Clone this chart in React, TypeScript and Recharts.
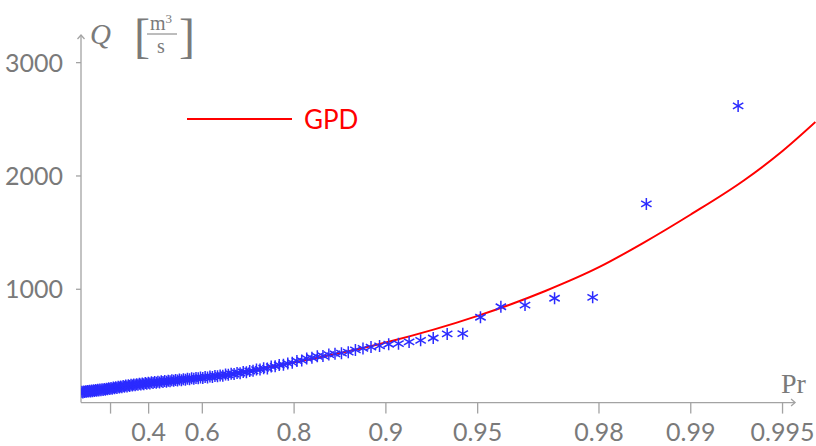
import React from 'react'
import {
  ComposedChart,
  Line,
  Scatter,
  XAxis,
  YAxis,
  ReferenceLine,
  Legend,
} from 'recharts'

// observed discharges, ranked from the largest (rank 1) to the smallest
const observedQ = [
  2618, 1753, 929, 921, 861, 846, 753, 608, 606, 570,
  550, 535, 520, 515, 500, 490, 478, 465, 445, 436,
  430, 424, 412, 408, 396, 390, 372, 368, 352, 346,
  334, 332, 320, 318, 302, 303, 292, 291, 280, 279,
  268, 270, 260, 262, 252, 254, 245, 247, 238, 240,
  232, 235, 226, 230, 222, 226, 216, 221, 214, 218,
  210, 215, 206, 210, 202, 207, 198, 203, 195, 200,
  192, 197, 188, 193, 185, 190, 182, 188, 178, 185,
  176, 182, 172, 179, 169, 176, 166, 172, 163, 169,
  160, 166, 157, 163, 153, 160, 150, 157, 146, 153,
  143, 150, 140, 146, 136, 143, 133, 139, 129, 136,
  126, 133, 123, 129, 120, 126, 117, 123, 114, 120,
  112, 118, 110, 115, 107, 113, 105, 111, 103, 109,
  101, 107, 99, 105, 97, 103, 95, 100, 93, 98, 90, 96,
]

// fitted GPD curve
const gpdProb = [0.077, 0.4, 0.6, 0.8, 0.9, 0.95, 0.97, 0.98, 0.9857, 0.99, 0.9933, 0.995, 0.9961]
const gpdQ = [96, 150, 215, 355, 530, 765, 985, 1195, 1410, 1660, 1960, 2220, 2476]

const tickProbs = [0.2, 0.4, 0.6, 0.8, 0.9, 0.95, 0.98, 0.99, 0.995]
const tickLabels = ['', '0.4', '0.6', '0.8', '0.9', '0.95', '0.98', '0.99', '0.995']
const yTicks = [1000, 2000, 3000]

// probability axis: plotted as -ln(1 - Pr)
const toT = (p: number) => -Math.log(1 - p)

const X_MAX = 5.551
const X_ARROW_END = 5.393
const Y_MAX = 3244

const AXIS = '#a3a3a3'
const TEXT = '#7a7a7a'
const BLUE = '#2b2bff'
const RED = '#ff0000'
const SANS = 'Lato, "Open Sans", sans-serif'
const SERIF = '"Liberation Serif", "DejaVu Serif", serif'

// Weibull plotting position for rank k out of n: Pr = 1 - k/(n+1)
const n = observedQ.length
const scatterData = observedQ.map((q, i) => ({ t: toT(1 - (i + 1) / (n + 1)), q }))
const lineData = gpdProb.map((p, i) => ({ t: toT(p), q: gpdQ[i] }))

const Asterisk = (props: any) => {
  const { cx, cy } = props
  if (cx == null || cy == null) return <g />
  const r = 6
  const dx = r * 0.866
  const dy = r * 0.5
  return (
    <g stroke={BLUE} strokeWidth={1.5}>
      <line x1={cx} y1={cy - r} x2={cx} y2={cy + r} />
      <line x1={cx - dx} y1={cy - dy} x2={cx + dx} y2={cy + dy} />
      <line x1={cx - dx} y1={cy + dy} x2={cx + dx} y2={cy - dy} />
    </g>
  )
}

// axis line with an open arrow head at its far end
const ArrowLine = (props: any) => {
  const { x1, y1, x2, y2 } = props
  const horizontal = Math.abs(y2 - y1) < Math.abs(x2 - x1)
  const head = horizontal
    ? `M${x2 - 4},${y2 - 3.5} L${x2},${y2} L${x2 - 4},${y2 + 3.5}`
    : `M${x2 - 3.5},${y2 + 4} L${x2},${y2} L${x2 + 3.5},${y2 + 4}`
  return (
    <g stroke={AXIS} strokeWidth={1.3} fill="none">
      <line x1={x1} y1={y1} x2={x2} y2={y2} />
      <path d={head} />
    </g>
  )
}

const YTitle = () => (
  <g fill={TEXT}>
    <text x={90} y={44} fontFamily={SERIF} fontStyle="italic" fontSize={29}>Q</text>
    <text x={134} y={52} fontFamily={SERIF} fontSize={48} fontWeight={300}>[</text>
    <text x={161} y={30} fontFamily={SERIF} fontSize={20} textAnchor="middle">
      m<tspan fontSize={13} dy={-7}>3</tspan>
    </text>
    <line x1={147} y1={34} x2={177} y2={34} stroke={TEXT} strokeWidth={1} />
    <text x={161} y={53} fontFamily={SERIF} fontSize={20} textAnchor="middle">s</text>
    <text x={179} y={52} fontFamily={SERIF} fontSize={48} fontWeight={300}>]</text>
  </g>
)

const XTitle = () => (
  <text x={781} y={393} fill={TEXT} fontFamily={SERIF} fontSize={28}>Pr</text>
)

const GpdLegend = () => (
  <svg width={200} height={40}>
    <line x1={0} y1={19} x2={105} y2={19} stroke={RED} strokeWidth={2} />
    <text x={117} y={29} fill={RED} fontFamily={SANS} fontSize={26}>GPD</text>
  </svg>
)

export default function App() {
  return (
    <div style={{ position: 'absolute', left: 0, top: 0 }}>
      <ComposedChart
        width={816}
        height={446}
        margin={{ top: 35, right: 0, bottom: 0, left: 0 }}
      >
        <XAxis
          type="number"
          dataKey="t"
          domain={[0, X_MAX]}
          allowDataOverflow
          ticks={tickProbs.map(toT)}
          tickFormatter={(_v: number, i: number) => tickLabels[i]}
          axisLine={false}
          tickLine={{ stroke: AXIS, strokeWidth: 1.3 }}
          tickSize={11}
          tickMargin={10}
          height={43.4}
          tick={{ fill: TEXT, fontFamily: SANS, fontSize: 25 }}
          interval={0}
          label={{ content: XTitle }}
        />
        <YAxis
          type="number"
          domain={[0, Y_MAX]}
          allowDataOverflow
          ticks={yTicks}
          axisLine={false}
          tickLine={{ stroke: AXIS, strokeWidth: 1.3 }}
          tickSize={5}
          tickMargin={13}
          width={81}
          tick={{ fill: TEXT, fontFamily: SANS, fontSize: 25 }}
          interval={0}
          label={{ content: YTitle }}
        />
        <ReferenceLine
          segment={[{ x: 0, y: 0 }, { x: X_ARROW_END, y: 0 }]}
          ifOverflow="visible"
          shape={ArrowLine}
        />
        <ReferenceLine
          segment={[{ x: 0, y: 0 }, { x: 0, y: Y_MAX }]}
          ifOverflow="visible"
          shape={ArrowLine}
        />
        <Scatter
          name="data"
          data={scatterData}
          dataKey="q"
          shape={Asterisk}
          isAnimationActive={false}
          legendType="none"
        />
        <Line
          name="GPD"
          data={lineData}
          dataKey="q"
          type="monotone"
          stroke={RED}
          strokeWidth={2}
          dot={false}
          isAnimationActive={false}
        />
        <Legend
          layout="vertical"
          align="center"
          verticalAlign="middle"
          content={GpdLegend}
          wrapperStyle={{ position: 'absolute', left: 187, top: 100, width: 200 }}
        />
      </ComposedChart>
    </div>
  )
}
